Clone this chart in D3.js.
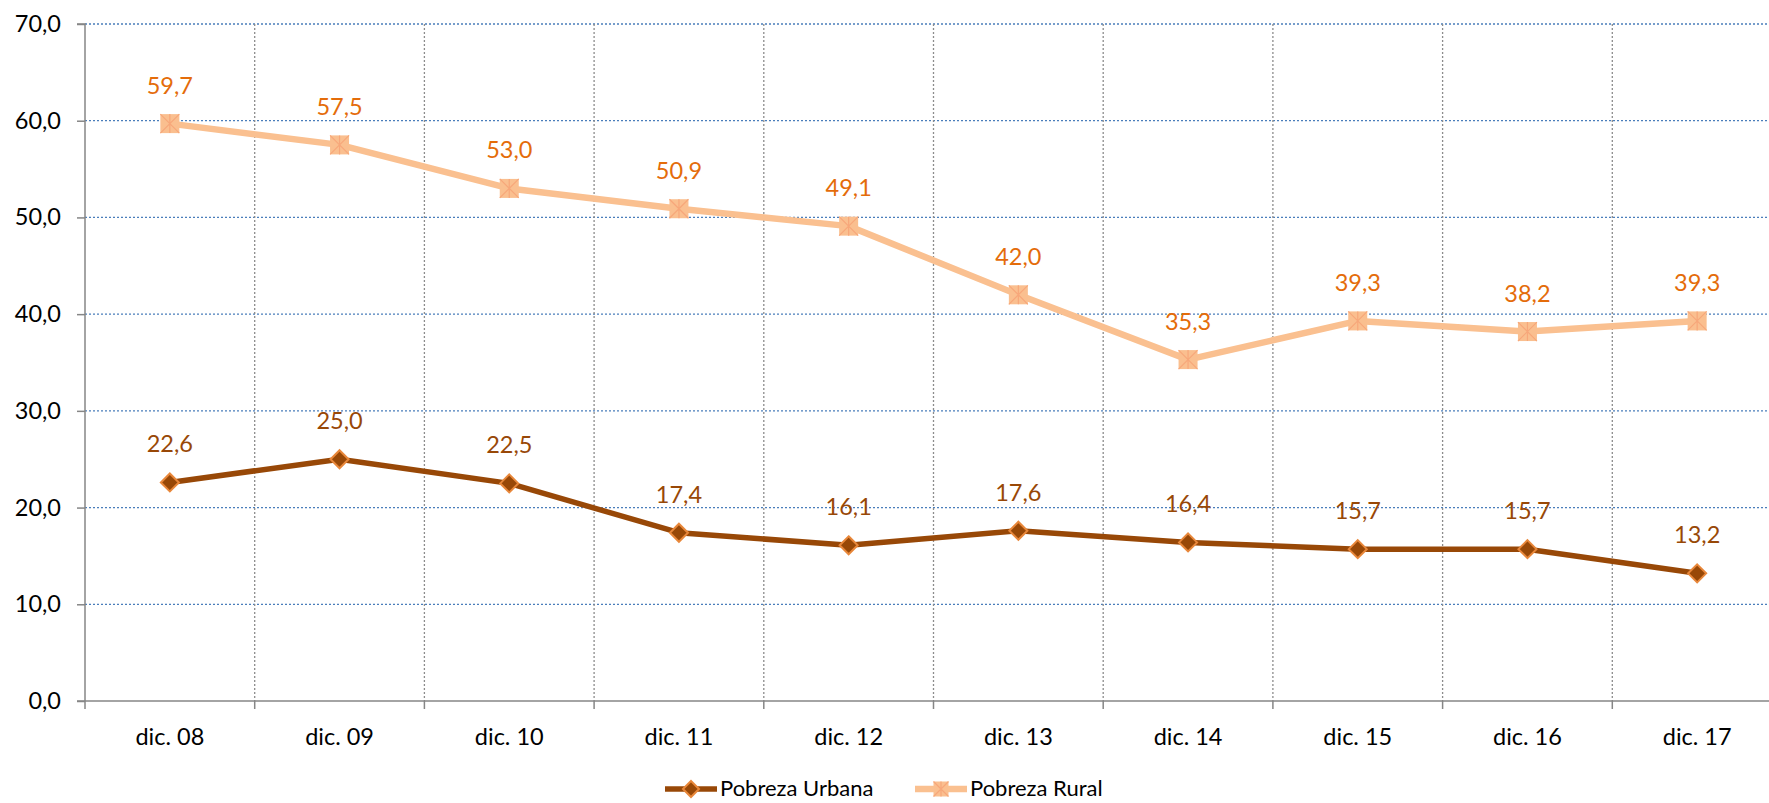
<!DOCTYPE html>
<html>
<head>
<meta charset="utf-8">
<script src="https://cdn.jsdelivr.net/npm/d3@7"></script>
<style>
  html, body { margin: 0; padding: 0; background: #fff; }
  svg { display: block; font-family: Lato, "Open Sans", sans-serif; }
</style>
</head>
<body>
<div id="chart"></div>
<script>
// chart data
const categories = ["dic. 08", "dic. 09", "dic. 10", "dic. 11", "dic. 12", "dic. 13", "dic. 14", "dic. 15", "dic. 16", "dic. 17"];
const urbana = [22.6, 25.0, 22.5, 17.4, 16.1, 17.6, 16.4, 15.7, 15.7, 13.2];
const rural = [59.7, 57.5, 53.0, 50.9, 49.1, 42.0, 35.3, 39.3, 38.2, 39.3];
const yTicks = [0, 10, 20, 30, 40, 50, 60, 70];

const W = 1769, H = 803;
const margin = {left: 85, top: 24, right: -13, bottom: 102};
const width = W - margin.left - margin.right;
const height = H - margin.top - margin.bottom;
const FS = "23.5px";

const fmt = v => v.toFixed(1).replace(".", ",");

const svg = d3.select("#chart").append("svg")
    .attr("width", W)
    .attr("height", H);

const g = svg.append("g")
    .attr("transform", `translate(${margin.left},${margin.top})`);

const x = d3.scaleBand().domain(categories).range([0, width]);
const y = d3.scaleLinear().domain([0, 70]).range([height, 0]);

// horizontal gridlines (blue dotted)
g.selectAll(".hgrid")
    .data(yTicks.filter(d => d > 0))
    .join("line")
    .attr("x1", 0).attr("x2", width)
    .attr("y1", d => y(d)).attr("y2", d => y(d))
    .attr("stroke", "#4a7ebb")
    .attr("stroke-width", 1.3)
    .attr("stroke-dasharray", "2,2");

// vertical gridlines (gray dotted) at category boundaries
const bounds = categories.slice(1).map(c => x(c));
g.selectAll(".vgrid")
    .data(bounds)
    .join("line")
    .attr("x1", d => d).attr("x2", d => d)
    .attr("y1", 0).attr("y2", height)
    .attr("stroke", "#8c8c8c")
    .attr("stroke-width", 1.3)
    .attr("stroke-dasharray", "2,2");

// y axis
const yAxis = d3.axisLeft(y).tickValues(yTicks).tickFormat(fmt).tickSize(8).tickPadding(16);
const yAxisG = g.append("g").call(yAxis);
yAxisG.select(".domain").attr("stroke", "#868686").attr("stroke-width", 1.5).attr("d", `M-8,0H0V${height}`);
yAxisG.selectAll(".tick line").attr("stroke", "#868686").attr("stroke-width", 1.5);
yAxisG.selectAll("text").attr("fill", "#000").style("font-size", FS).style("font-family", "Lato, sans-serif");

// x axis
g.append("line")
    .attr("x1", -8).attr("x2", width)
    .attr("y1", height).attr("y2", height)
    .attr("stroke", "#868686").attr("stroke-width", 1.5);
g.selectAll(".xtick")
    .data([0].concat(bounds))
    .join("line")
    .attr("x1", d => d).attr("x2", d => d)
    .attr("y1", height).attr("y2", height + 8)
    .attr("stroke", "#868686").attr("stroke-width", 1.5);
g.selectAll(".xlabel")
    .data(categories)
    .join("text")
    .attr("x", d => x(d) + x.bandwidth() / 2)
    .attr("y", height + 44)
    .attr("text-anchor", "middle")
    .style("font-size", FS)
    .attr("fill", "#000")
    .text(d => d);

const line = d3.line()
    .x((d, i) => x(categories[i]) + x.bandwidth() / 2)
    .y(d => y(d));

// rural series
g.append("path")
    .datum(rural)
    .attr("d", line)
    .attr("fill", "none")
    .attr("stroke", "#fac090")
    .attr("stroke-width", 6.5)
    .attr("stroke-linejoin", "round");

function squareMarker(sel, cx, cy, s) {
    sel.append("rect")
        .attr("x", cx - s / 2).attr("y", cy - s / 2)
        .attr("width", s).attr("height", s)
        .attr("fill", "#fabf8f");
    sel.append("path")
        .attr("d", `M${cx - s / 2},${cy - s / 2}L${cx + s / 2},${cy + s / 2}M${cx + s / 2},${cy - s / 2}L${cx - s / 2},${cy + s / 2}M${cx},${cy - s / 2}V${cy + s / 2}`)
        .attr("stroke", "#f7a77a")
        .attr("stroke-width", 1.2);
}
function diamondMarker(sel, cx, cy, r) {
    sel.append("path")
        .attr("d", `M${cx},${cy - r}L${cx + r},${cy}L${cx},${cy + r}L${cx - r},${cy}Z`)
        .attr("fill", "#984807")
        .attr("stroke", "#e8873a")
        .attr("stroke-width", 2);
}

rural.forEach((v, i) => {
    squareMarker(g, x(categories[i]) + x.bandwidth() / 2, y(v), 19);
});

// urban series
g.append("path")
    .datum(urbana)
    .attr("d", line)
    .attr("fill", "none")
    .attr("stroke", "#984807")
    .attr("stroke-width", 5.5)
    .attr("stroke-linejoin", "round");

urbana.forEach((v, i) => {
    diamondMarker(g, x(categories[i]) + x.bandwidth() / 2, y(v), 9);
});

// data labels
g.selectAll(".lblR")
    .data(rural)
    .join("text")
    .attr("x", (d, i) => x(categories[i]) + x.bandwidth() / 2)
    .attr("y", d => y(d) - 30)
    .attr("text-anchor", "middle")
    .attr("fill", "#e46c0a")
    .style("font-size", FS)
    .text(fmt);

g.selectAll(".lblU")
    .data(urbana)
    .join("text")
    .attr("x", (d, i) => x(categories[i]) + x.bandwidth() / 2)
    .attr("y", d => y(d) - 30)
    .attr("text-anchor", "middle")
    .attr("fill", "#984807")
    .style("font-size", FS)
    .text(fmt);

// legend
const legend = svg.append("g").attr("transform", "translate(0,789)");
legend.append("line").attr("x1", 665).attr("x2", 717).attr("y1", 0).attr("y2", 0)
    .attr("stroke", "#984807").attr("stroke-width", 5.5);
diamondMarker(legend, 691, 0, 8);
legend.append("text").attr("x", 720).attr("y", 7).style("font-size", "22px").text("Pobreza Urbana");

legend.append("line").attr("x1", 915).attr("x2", 967).attr("y1", 0).attr("y2", 0)
    .attr("stroke", "#fac090").attr("stroke-width", 6.5);
squareMarker(legend, 941, 0, 15);
legend.append("text").attr("x", 970).attr("y", 7).style("font-size", "22px").text("Pobreza Rural");
</script>
</body>
</html>
